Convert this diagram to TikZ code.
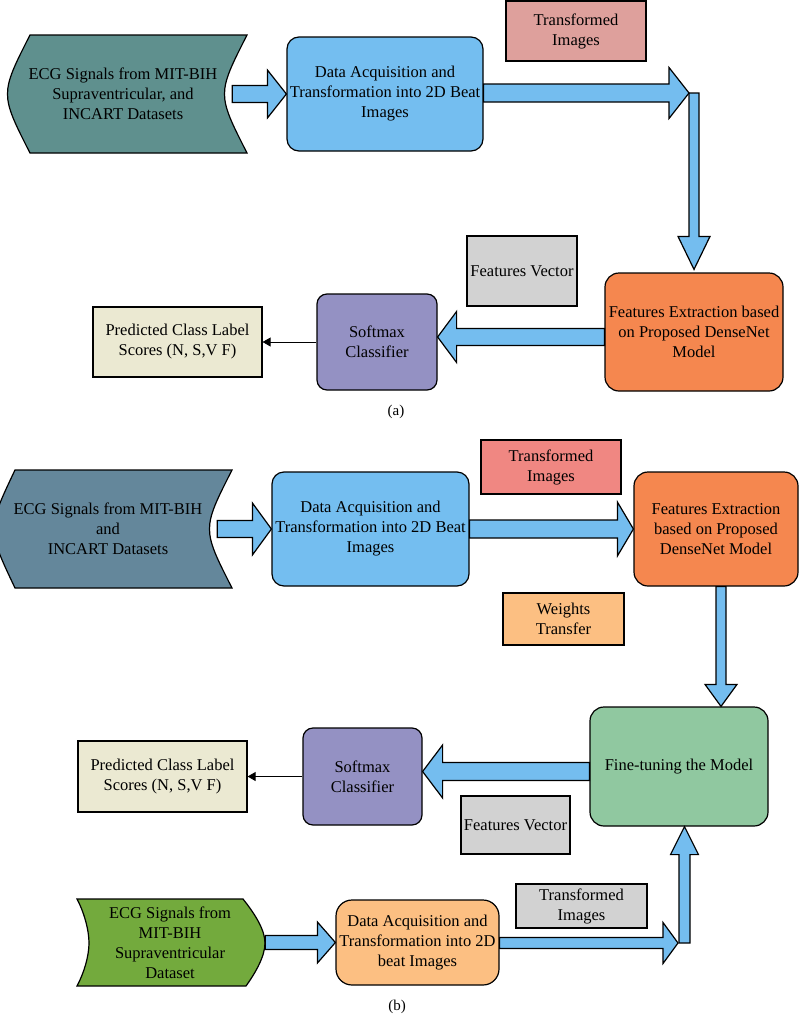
\documentclass[tikz,border=0pt]{standalone}
\usepackage{fontspec}
\setmainfont{Liberation Serif}
\usetikzlibrary{calc,arrows.meta}

\definecolor{tealecg}{HTML}{5F908E}
\definecolor{slateecg}{HTML}{64879B}
\definecolor{greenecg}{HTML}{73AA3D}
\definecolor{acqblue}{HTML}{74BEF0}
\definecolor{arrowblue}{HTML}{74BDEF}
\definecolor{rosy}{HTML}{DEA09C}
\definecolor{salmonred}{HTML}{F08782}
\definecolor{densered}{HTML}{F5874F}
\definecolor{vecgray}{HTML}{D2D2D2}
\definecolor{softpurple}{HTML}{9491C3}
\definecolor{predbeige}{HTML}{EBE9D2}
\definecolor{peach}{HTML}{FCBF82}
\definecolor{finegreen}{HTML}{90C8A0}

% wide block arrows: tail, tip, shaft half width, head half width, head length
\newcommand{\harrow}[5]{%
  \draw[fat] let \p1=(#1), \p2=(#2), \n1={ifthenelse(\x2>\x1,#5,-#5)} in
    (\x1,\y2+#3) -- (\x2-\n1,\y2+#3) -- (\x2-\n1,\y2+#4) -- (\x2,\y2)
    -- (\x2-\n1,\y2-#4) -- (\x2-\n1,\y2-#3) -- (\x1,\y2-#3) -- cycle;}
\newcommand{\varrow}[5]{%
  \draw[fat] let \p1=(#1), \p2=(#2), \n1={ifthenelse(\y2>\y1,#5,-#5)} in
    (\x2+#3,\y1) -- (\x2+#3,\y2-\n1) -- (\x2+#4,\y2-\n1) -- (\x2,\y2)
    -- (\x2-#4,\y2-\n1) -- (\x2-#3,\y2-\n1) -- (\x2-#3,\y1) -- cycle;}

\begin{document}
\begin{tikzpicture}[x=1pt, y=-1pt,
    txt/.style={inner sep=0pt, align=center, font=\fontsize{16.5}{20}\selectfont},
    box/.style={txt, draw, line width=1.2pt},
    rbox/.style={box, rounded corners=12pt},
    outline/.style={draw, line width=1.2pt},
    fat/.style={draw, fill=arrowblue, line width=1.2pt, line join=miter},
    thin/.style={line width=0.8pt, -{Triangle[length=8pt,width=9pt]}}
]
\useasboundingbox (0,0) rectangle (800,1017);

% (a) transfer-free pipeline
\draw[outline, fill=tealecg] (30,35) -- (247,35) .. controls (217,94) .. (247,153)
    -- (30,153) .. controls (0,94) .. cycle;
\node[txt, minimum width=218pt, minimum height=118pt] (ecgA) at (123,94)
    {ECG Signals from MIT-BIH\\Supraventricular, and\\INCART Datasets};
\node[rbox, fill=acqblue, minimum width=196pt, minimum height=114pt] (acqA) at (385,94)
    {Data Acquisition and\\Transformation into 2D Beat\\Images};
\node[box, fill=rosy, minimum width=140pt, minimum height=60pt] (tiA) at (576,31)
    {Transformed\\Images};
\node[rbox, rounded corners=14pt, fill=densered, minimum width=178pt, minimum height=118pt] (featA) at (694,332)
    {Features Extraction based\\on Proposed DenseNet\\Model};
\node[box, fill=vecgray, minimum width=110pt, minimum height=70pt] (fvA) at (522,271)
    {Features Vector};
\node[rbox, rounded corners=10pt, fill=softpurple, minimum width=120pt, minimum height=96pt] (softA) at (377,342)
    {Softmax\\Classifier};
\node[box, fill=predbeige, minimum width=169pt, minimum height=70pt] (predA) at (177.5,342)
    {Predicted Class Label\\Scores (N, S,V F)};
\node[font=\fontsize{15}{18}\selectfont] (capA) at (396,412) {(a)};

\coordinate (bendA) at (689,93);
\harrow{ecgA.east}{acqA.west}{8.5}{24}{19}
\varrow{bendA}{$(featA.north)+(0,-3)$}{5}{16}{33}
\harrow{acqA.east}{bendA}{9}{25.5}{20}
\harrow{featA.west}{$(softA.east)+(0,-5)$}{8.5}{25.5}{19}
\draw[thin] (softA) -- (predA);

% (b) with weight transfer
\draw[outline, fill=slateecg] (15,470) -- (232,470) .. controls (202,529) .. (232,588)
    -- (15,588) .. controls (-13,529) .. cycle;
\node[txt, minimum width=218pt, minimum height=118pt] (ecgB) at (108,529)
    {ECG Signals from MIT-BIH\\and\\INCART Datasets};
\node[rbox, fill=acqblue, minimum width=197pt, minimum height=114pt] (acqB) at (370.5,529)
    {Data Acquisition and\\Transformation into 2D Beat\\Images};
\node[box, fill=salmonred, minimum width=140pt, minimum height=54pt] (tiB) at (551,467)
    {Transformed\\Images};
\node[rbox, rounded corners=14pt, fill=densered, minimum width=164pt, minimum height=114pt] (featB) at (716,529)
    {Features Extraction\\based on Proposed\\DenseNet Model};
\node[box, fill=peach, minimum width=121pt, minimum height=52pt] (wtB) at (563.5,619)
    {Weights\\Transfer};
\node[rbox, rounded corners=14pt, fill=finegreen, minimum width=178pt, minimum height=119pt] (fineB) at (679,766.5)
    {Fine-tuning the Model};
\node[rbox, rounded corners=10pt, fill=softpurple, minimum width=119pt, minimum height=97pt] (softB) at (362.5,776.5)
    {Softmax\\Classifier};
\node[box, fill=predbeige, minimum width=169pt, minimum height=71pt] (predB) at (162.5,776.5)
    {Predicted Class Label\\Scores (N, S,V F)};
\node[box, fill=vecgray, minimum width=109pt, minimum height=58pt] (fvB) at (515.5,825)
    {Features Vector};

\draw[outline, fill=greenecg] (77,899) -- (243,899) .. controls (255,914) and (265,930) .. (265,943)
    .. controls (265,956) and (256,972) .. (246,986) -- (77,986)
    .. controls (84,973) and (89,956) .. (89,943) .. controls (89,930) and (84,912) .. cycle;
\node[txt, minimum width=190pt, minimum height=88pt] (chevB) at (170,943)
    {ECG Signals from\\MIT-BIH\\Supraventricular\\Dataset};
\node[rbox, rounded corners=16pt, fill=peach, minimum width=163pt, minimum height=85pt] (acqC) at (417.5,942.5)
    {Data Acquisition and\\Transformation into 2D\\beat Images};
\node[box, fill=vecgray, minimum width=131pt, minimum height=44pt] (tiC) at (581.5,906)
    {Transformed\\Images};
\node[font=\fontsize{15}{18}\selectfont] (capB) at (397,1007) {(b)};

\coordinate (bendC) at (678,943);
\harrow{ecgB.east}{acqB.west}{8.5}{26}{19}
\harrow{acqB.east}{featB.west}{9}{27}{16}
\varrow{featB.south}{$(featB.south |- fineB.north)+(5,0)$}{5}{16}{22}
\harrow{fineB.west}{$(softB.east)+(0,-5)$}{9}{26.5}{20}
\draw[thin] (softB) -- (predB);
\harrow{chevB.east}{acqC.west}{7}{20.5}{18}
\varrow{bendC}{$(fineB.south)+(5.5,0)$}{5.5}{14}{28}
\harrow{acqC.east}{bendC}{5.5}{20.5}{15}
\end{tikzpicture}
\end{document}
